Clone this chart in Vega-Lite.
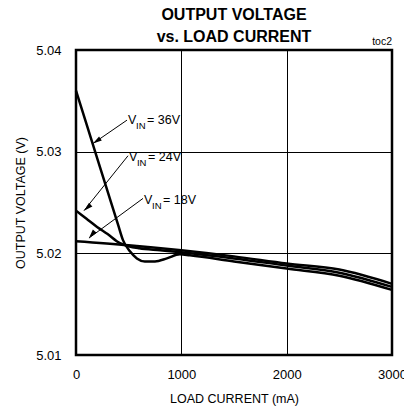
{
  "$schema": "https://vega.github.io/schema/vega-lite/v6.json",
  "width": 316,
  "height": 305,
  "autosize": {"type": "none"},
  "padding": {"left": 76, "top": 50, "right": 12, "bottom": 58},
  "background": "white",
  "title": {
    "text": ["OUTPUT VOLTAGE", "vs. LOAD CURRENT"],
    "font": "Liberation Sans, Arial",
    "fontSize": 16,
    "fontWeight": "bold",
    "color": "black",
    "anchor": "middle",
    "lineHeight": 22,
    "offset": -8
  },
  "config": {
    "view": {"stroke": "black", "strokeWidth": 2.5},
    "font": "Liberation Sans, Arial",
    "axis": {
      "labelFont": "Liberation Sans, Arial",
      "titleFont": "Liberation Sans, Arial",
      "labelFontSize": 13,
      "titleFontSize": 12.5,
      "titleFontWeight": "normal",
      "labelColor": "black",
      "titleColor": "black",
      "gridColor": "black",
      "gridWidth": 1,
      "gridOpacity": 1,
      "ticks": false,
      "tickSize": 0,
      "domain": false,
      "labelFlush": false,
      "labelOverlap": false
    }
  },
  "datasets": {
    "curves": [
      {"series": "36V", "current": 0, "voltage": 5.0360},
      {"series": "36V", "current": 100, "voltage": 5.0327},
      {"series": "36V", "current": 200, "voltage": 5.0294},
      {"series": "36V", "current": 300, "voltage": 5.0261},
      {"series": "36V", "current": 400, "voltage": 5.0228},
      {"series": "36V", "current": 446, "voltage": 5.0213},
      {"series": "36V", "current": 512, "voltage": 5.0202},
      {"series": "36V", "current": 578, "voltage": 5.0195},
      {"series": "36V", "current": 654, "voltage": 5.0192},
      {"series": "36V", "current": 750, "voltage": 5.0192},
      {"series": "36V", "current": 863, "voltage": 5.0195},
      {"series": "36V", "current": 986, "voltage": 5.0199},
      {"series": "36V", "current": 1081, "voltage": 5.0198},
      {"series": "36V", "current": 1500, "voltage": 5.0192},
      {"series": "36V", "current": 2000, "voltage": 5.0185},
      {"series": "36V", "current": 2500, "voltage": 5.0178},
      {"series": "36V", "current": 3000, "voltage": 5.0164},
      {"series": "24V", "current": 0, "voltage": 5.0242},
      {"series": "24V", "current": 100, "voltage": 5.0234},
      {"series": "24V", "current": 200, "voltage": 5.0226},
      {"series": "24V", "current": 300, "voltage": 5.0219},
      {"series": "24V", "current": 417, "voltage": 5.0210},
      {"series": "24V", "current": 500, "voltage": 5.0207},
      {"series": "24V", "current": 600, "voltage": 5.0205},
      {"series": "24V", "current": 800, "voltage": 5.0203},
      {"series": "24V", "current": 1000, "voltage": 5.0201},
      {"series": "24V", "current": 1500, "voltage": 5.0195},
      {"series": "24V", "current": 2000, "voltage": 5.0188},
      {"series": "24V", "current": 2500, "voltage": 5.0181},
      {"series": "24V", "current": 3000, "voltage": 5.0167},
      {"series": "18V", "current": 0, "voltage": 5.0212},
      {"series": "18V", "current": 500, "voltage": 5.0208},
      {"series": "18V", "current": 1000, "voltage": 5.0203},
      {"series": "18V", "current": 1500, "voltage": 5.0197},
      {"series": "18V", "current": 2000, "voltage": 5.0190},
      {"series": "18V", "current": 2500, "voltage": 5.0184},
      {"series": "18V", "current": 3000, "voltage": 5.0170}
    ],
    "arrows": [
      {"series": "36V", "x1": 484, "y1": 5.0331, "x2": 161, "y2": 5.0308},
      {"series": "24V", "x1": 494, "y1": 5.0296, "x2": 76, "y2": 5.0242},
      {"series": "18V", "x1": 636, "y1": 5.0254, "x2": 123, "y2": 5.0215}
    ],
    "labels": [
      {"series": "36V", "x": 494, "y": 5.0331, "v": "V", "sub": "IN", "rest": "= 36V"},
      {"series": "24V", "x": 503, "y": 5.0295, "v": "V", "sub": "IN", "rest": "= 24V"},
      {"series": "18V", "x": 646, "y": 5.0252, "v": "V", "sub": "IN", "rest": "= 18V"}
    ],
    "notes": [
      {"x": 3000, "y": 5.04, "text": "toc2"}
    ]
  },
  "layer": [
    {
      "data": {"name": "curves"},
      "mark": {"type": "line", "color": "black", "strokeWidth": 2.5, "interpolate": "monotone"},
      "encoding": {
        "x": {
          "field": "current", "type": "quantitative",
          "scale": {"domain": [0, 3000], "nice": false},
          "axis": {"values": [0, 1000, 2000, 3000], "format": "d", "title": "LOAD CURRENT (mA)", "grid": true, "labelPadding": 13, "titlePadding": 11}
        },
        "y": {
          "field": "voltage", "type": "quantitative",
          "scale": {"domain": [5.01, 5.04], "zero": false, "nice": false},
          "axis": {"values": [5.01, 5.02, 5.03, 5.04], "format": ".2f", "title": "OUTPUT VOLTAGE (V)", "grid": true, "labelPadding": 15, "titlePadding": 8}
        },
        "detail": {"field": "series"}
      }
    },
    {
      "data": {"name": "arrows"},
      "mark": {"type": "rule", "color": "black", "strokeWidth": 1},
      "encoding": {
        "x": {"field": "x1", "type": "quantitative"},
        "y": {"field": "y1", "type": "quantitative"},
        "x2": {"field": "x2"},
        "y2": {"field": "y2"}
      }
    },
    {
      "data": {"name": "arrows"},
      "mark": {"type": "point", "shape": "M0,0L0.55,2L-0.55,2Z", "filled": true, "color": "black", "opacity": 1, "size": 81, "strokeWidth": 0},
      "encoding": {
        "x": {"field": "x2", "type": "quantitative"},
        "y": {"field": "y2", "type": "quantitative"},
        "angle": {"field": "series", "type": "nominal", "scale": {"domain": ["36V", "24V", "18V"], "range": [236, 220, 235]}, "legend": null}
      }
    },
    {
      "data": {"name": "labels"},
      "mark": {"type": "text", "align": "left", "baseline": "middle", "fontSize": 12.5, "color": "black"},
      "encoding": {
        "x": {"field": "x", "type": "quantitative"},
        "y": {"field": "y", "type": "quantitative"},
        "text": {"field": "v"}
      }
    },
    {
      "data": {"name": "labels"},
      "mark": {"type": "text", "align": "left", "baseline": "middle", "fontSize": 9.5, "color": "black", "dx": 8, "dy": 6},
      "encoding": {
        "x": {"field": "x", "type": "quantitative"},
        "y": {"field": "y", "type": "quantitative"},
        "text": {"field": "sub"}
      }
    },
    {
      "data": {"name": "labels"},
      "mark": {"type": "text", "align": "left", "baseline": "middle", "fontSize": 12.5, "color": "black", "dx": 19},
      "encoding": {
        "x": {"field": "x", "type": "quantitative"},
        "y": {"field": "y", "type": "quantitative"},
        "text": {"field": "rest"}
      }
    },
    {
      "data": {"name": "notes"},
      "mark": {"type": "text", "align": "right", "baseline": "alphabetic", "fontSize": 10.5, "color": "black", "dy": -5},
      "encoding": {
        "x": {"field": "x", "type": "quantitative"},
        "y": {"field": "y", "type": "quantitative"},
        "text": {"field": "text"}
      }
    }
  ]
}
